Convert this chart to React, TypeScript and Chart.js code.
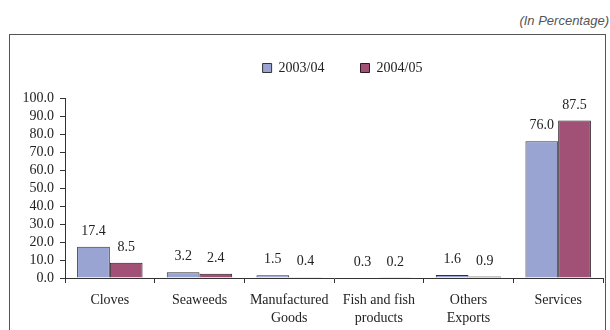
import React, { useEffect, useRef } from "react";
import { Chart, registerables } from "chart.js";

Chart.register(...registerables);

const categories: (string | string[])[] = [
  "Cloves",
  "Seaweeds",
  ["Manufactured", "Goods"],
  ["Fish and fish", "products"],
  ["Others", "Exports"],
  "Services",
];
const series2003: number[] = [17.4, 3.2, 1.5, 0.3, 1.6, 76.0];
const series2004: number[] = [8.5, 2.4, 0.4, 0.2, 0.9, 87.5];
const seriesLabels: string[] = ["2003/04", "2004/05"];
const yTicks = { min: 0, max: 100, step: 10 };

const SERIF = "'Liberation Serif', 'Times New Roman', serif";

export default function App() {
  const ref = useRef<HTMLCanvasElement | null>(null);

  useEffect(() => {
    document.body.style.margin = "0";
    if (!ref.current) return;

    const legendPatch = {
      id: "legendPatch",
      beforeInit(chart: any) {
        const lg = chart.legend;
        if (lg) {
          const orig = lg.fit;
          lg.fit = function () {
            orig.call(this);
            this.height = 73;
          };
        }
      },
      afterLayout(chart: any) {
        const lg = chart.legend;
        if (lg) {
          lg.left += 41;
          lg.right += 41;
        }
      },
    };

    const valueLabels = {
      id: "valueLabels",
      afterDatasetsDraw(chart: any) {
        const ctx = chart.ctx;
        ctx.save();
        ctx.font = `14px ${SERIF}`;
        ctx.fillStyle = "#222";
        ctx.textAlign = "center";
        ctx.textBaseline = "middle";
        chart.data.datasets.forEach((ds: any, i: number) => {
          const meta = chart.getDatasetMeta(i);
          meta.data.forEach((el: any, j: number) => {
            const v = ds.data[j] as number;
            ctx.fillText(v.toFixed(1), el.x, el.y - 15.5);
          });
        });
        ctx.restore();
      },
    };

    const chart = new Chart(ref.current, {
      type: "bar",
      data: {
        labels: categories,
        datasets: [
          {
            label: seriesLabels[0],
            data: series2003,
            backgroundColor: "#99A4D2",
            borderColor: "#333333",
            borderWidth: 1,
          },
          {
            label: seriesLabels[1],
            data: series2004,
            backgroundColor: "#A05175",
            borderColor: "#2a1a22",
            borderWidth: 1,
          },
        ],
      },
      options: {
        animation: false,
        responsive: false,
        layout: { padding: { top: 25, right: 7, bottom: 0, left: 0 } },
        datasets: {
          bar: { categoryPercentage: 0.73, barPercentage: 1 },
        },
        plugins: {
          tooltip: { enabled: false },
          legend: {
            position: "top",
            labels: {
              boxWidth: 9,
              boxHeight: 9,
              padding: 36,
              color: "#222",
              font: { family: SERIF, size: 14 },
            },
          },
        },
        scales: {
          x: {
            afterFit(scale: any) {
              scale.height = 52;
            },
            grid: {
              offset: true,
              drawOnChartArea: false,
              drawTicks: true,
              tickLength: 5,
              color: "#333",
            },
            border: { display: true, color: "#333", width: 1 },
            ticks: {
              color: "#222",
              padding: 8,
              maxRotation: 0,
              autoSkip: false,
              font: { family: SERIF, size: 14, lineHeight: 1.29 },
            },
          },
          y: {
            min: yTicks.min,
            max: yTicks.max,
            afterFit(scale: any) {
              scale.width = 65;
            },
            grid: {
              drawOnChartArea: false,
              drawTicks: true,
              tickLength: 5,
              color: "#333",
            },
            border: { display: true, color: "#333", width: 1 },
            ticks: {
              stepSize: yTicks.step,
              autoSkip: false,
              color: "#222",
              padding: 6,
              font: { family: SERIF, size: 14, lineHeight: 1 },
              callback: (v: any) => Number(v).toFixed(1),
            },
          },
        },
      },
      plugins: [legendPatch, valueLabels],
    });

    return () => chart.destroy();
  }, []);

  return (
    <div style={{ position: "relative", width: 610, height: 330, overflow: "hidden", background: "#fff" }}>
      <span
        style={{
          position: "absolute",
          right: 1,
          top: 13,
          fontFamily: "'Liberation Sans', Arial, sans-serif",
          fontStyle: "italic",
          fontSize: 13,
          lineHeight: "16px",
          color: "#555",
          whiteSpace: "nowrap",
        }}
      >
        (In Percentage)
      </span>
      <div
        style={{
          position: "absolute",
          left: 9,
          top: 34,
          width: 597,
          height: 320,
          border: "1.5px solid #555",
          boxSizing: "border-box",
        }}
      />
      <canvas ref={ref} width={610} height={330} style={{ position: "absolute", left: 0, top: 0 }} />
    </div>
  );
}
